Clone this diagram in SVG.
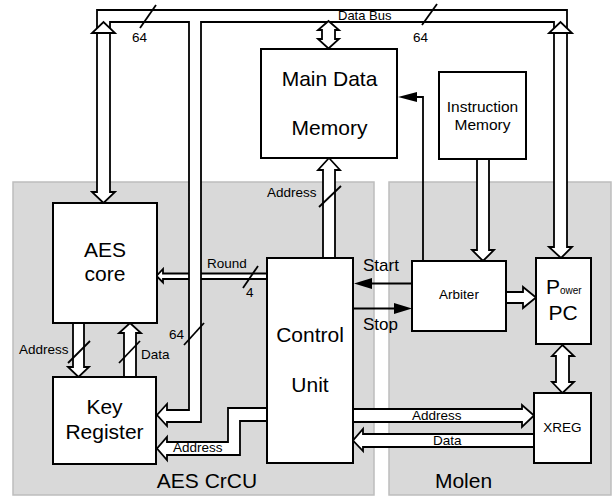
<svg xmlns="http://www.w3.org/2000/svg" width="616" height="497" viewBox="0 0 616 497">
<style>
.panel{fill:#d9d9d9;stroke:#bdbdbd;stroke-width:1.5}
.box{fill:#fff;stroke:#000;stroke-width:2}
.arr{fill:#fff;stroke:#000;stroke-width:1.8;stroke-linejoin:miter}
.ln{fill:none;stroke:#000;stroke-width:1.8}
.head{fill:#000;stroke:none}
text{font-family:"Liberation Sans",Arial,sans-serif;fill:#000}
.big{font-size:21px;text-anchor:middle}
.mid{font-size:13.5px;text-anchor:middle}
.sm{font-size:13.5px}
</style>
<rect width="616" height="497" fill="#fff"/>
<g id="panel-aes-crcu">
<rect class="panel" x="13" y="182" width="361" height="313"/>
<text class="big" x="207" y="488">AES CrCU</text>
</g>
<g id="panel-molen">
<rect class="panel" x="389" y="182" width="222" height="313"/>
<text class="big" x="463.5" y="488">Molen</text>
</g>
<g id="connectors">
<!-- Round -->
<polygon class="arr" points="267,273.5 163,273.5 163,269 156.5,276 163,282.5 163,279 267,279"/>
<line class="ln" x1="243" y1="288" x2="258" y2="266"/>
<text class="sm" x="207" y="268">Round</text>
<text class="sm" x="246" y="297">4</text>
<!-- Data bus -->
<polygon class="arr" points="97,192 97,10 567,10 567,247 572,247 561,258 549,247 554,247 554,22 201,22 201,422 167,422 167,426 157,415 167,404 167,410 189,410 189,22 110,22 110,192 115,192 103.5,203 92,192"/>
<polygon class="arr" points="97,33 92,33 103.5,22 115,33 110,33"/>
<polygon class="arr" points="554,33 549,33 560.5,22 572,33 567,33"/>
<polygon class="arr" points="322,30 318,30 328.5,21 339,30 335,30 335,39 339,39 328.5,48.5 318,39 322,39"/>
<line class="ln" x1="140" y1="28" x2="156" y2="5"/>
<line class="ln" x1="422" y1="25" x2="437" y2="4"/>
<line class="ln" x1="184" y1="345" x2="204" y2="323"/>
<text class="sm" x="132" y="42">64</text>
<text class="sm" x="413" y="42">64</text>
<text class="sm" x="169" y="339">64</text>
<text x="338" y="20" style="font-size:13px">Data Bus</text>
<!-- CU address to memory -->
<polygon class="arr" points="323,258 323,170 318,170 329,158 340,170 335,170 335,258"/>
<line class="ln" x1="319" y1="207" x2="341" y2="186"/>
<text class="sm" x="267" y="197">Address</text>
<!-- AES core to key register address -->
<polygon class="arr" points="73,323 73,367 68,367 78.5,377 89,367 84,367 84,323"/>
<line class="ln" x1="68" y1="363" x2="90" y2="341"/>
<text class="sm" x="19" y="354">Address</text>
<!-- Key register to AES core data -->
<polygon class="arr" points="124,377 124,333 119,333 130,323 141,333 136,333 136,377"/>
<line class="ln" x1="119" y1="363" x2="140" y2="341"/>
<text class="sm" x="141" y="359">Data</text>
<!-- CU address to key register -->
<polygon class="arr" points="267,408 228,408 228,442 167,442 167,437 157,448.5 167,460 167,455 240,455 240,421 267,421"/>
<text class="sm" x="173" y="452">Address</text>
<!-- Start / Stop -->
<line class="ln" x1="412" y1="283.5" x2="370" y2="283.5"/>
<polygon class="head" points="354,283.5 372,278 372,289"/>
<text x="363" y="271" style="font-size:17px">Start</text>
<line class="ln" x1="353" y1="308.5" x2="396" y2="308.5"/>
<polygon class="head" points="412,308.5 394,303 394,314"/>
<text x="363" y="330" style="font-size:17px">Stop</text>
<!-- Arbiter to memory -->
<polyline class="ln" points="423,261 423,97 414,97"/>
<polygon class="head" points="398,97 417,92 417,102"/>
<!-- Instruction memory to arbiter -->
<polygon class="arr" points="477,159 477,250 472,250 483,261 494,250 489,250 489,159"/>
<!-- Arbiter to PowerPC -->
<polygon class="arr" points="506,292 523,292 523,287 536,297.5 523,308 523,303 506,303"/>
<!-- PowerPC to XREG -->
<polygon class="arr" points="556,356 552,356 562.5,345 574,356 569,356 569,382 574,382 562.5,393 552,382 556,382"/>
<!-- CU to XREG -->
<polygon class="arr" points="353,409 522,409 522,405 534,415.5 522,427 522,422 353,422"/>
<text class="sm" x="412" y="420">Address</text>
<polygon class="arr" points="534,434 363,434 363,429 353,440.5 363,451 363,447 534,447"/>
<text class="sm" x="433" y="445">Data</text>
</g>
<g id="main-data-memory">
<rect class="box" x="261" y="49" width="136" height="109"/>
<text class="big" x="329.5" y="86">Main Data</text>
<text class="big" x="329.5" y="135">Memory</text>
</g>
<g id="instruction-memory">
<rect class="box" x="439" y="72" width="87" height="87"/>
<text x="482.5" y="112" style="font-size:15.5px;text-anchor:middle">Instruction</text>
<text x="482.5" y="130" style="font-size:15.5px;text-anchor:middle">Memory</text>
</g>
<g id="aes-core">
<rect class="box" x="53" y="203" width="104" height="120"/>
<text class="big" x="105" y="257">AES</text>
<text class="big" x="105" y="281">core</text>
</g>
<g id="key-register">
<rect class="box" x="53" y="377" width="103" height="87"/>
<text class="big" x="104.5" y="414">Key</text>
<text class="big" x="104.5" y="439">Register</text>
</g>
<g id="control-unit">
<rect class="box" x="267" y="258" width="86" height="205"/>
<text class="big" x="310" y="342">Control</text>
<text class="big" x="310" y="392">Unit</text>
</g>
<g id="arbiter">
<rect class="box" x="412" y="261" width="94" height="70"/>
<text class="mid" x="459" y="299">Arbiter</text>
</g>
<g id="powerpc">
<rect class="box" x="536" y="258" width="55" height="86"/>
<text x="546" y="294" style="font-size:21px">P<tspan style="font-size:10px">ower</tspan></text>
<text class="big" x="563" y="320">PC</text>
</g>
<g id="xreg">
<rect class="box" x="534" y="393" width="57" height="70"/>
<text class="mid" x="562.5" y="432">XREG</text>
</g>
</svg>
